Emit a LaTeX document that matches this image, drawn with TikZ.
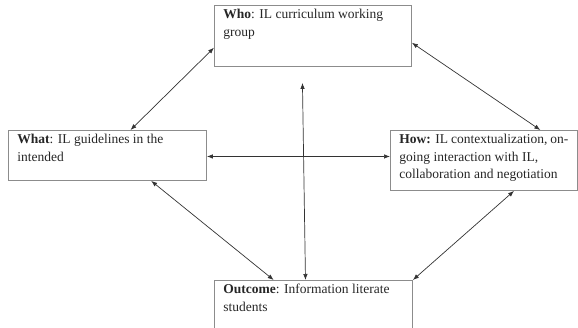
\documentclass[tikz,border=0pt]{standalone}
\usepackage{fontspec}
\setmainfont{Liberation Serif}
\usetikzlibrary{calc, arrows.meta}

\newcommand{\cellText}[3]{\parbox[t][#2][t]{#1}{\raggedright #3}}

\tikzset{
  infobox/.style={draw=black!45, line width=0.9pt, anchor=north west,
    inner xsep=9pt, inner ysep=4pt, text=black!85,
    font=\fontsize{13.5}{17.4}\selectfont},
  link/.style={black!80, line width=0.7pt,
    {Latex[length=6pt,width=4.5pt]}-{Latex[length=6pt,width=4.5pt]}}
}

\begin{document}
\begin{tikzpicture}[x=1pt,y=-1pt]
\useasboundingbox (0,0) rectangle (578,327);
% Four boxes
\node[infobox] (who) at (214,5)
  {\cellText{179pt}{53pt}{\textbf{Who}: IL curriculum working\\group}};
\node[infobox] (what) at (8,130)
  {\cellText{180pt}{42pt}{\textbf{What}: IL guidelines in the\\intended}};
\node[infobox] (how) at (390,130)
  {\cellText{169pt}{52pt}{\textbf{How:} IL contextualization, on-\\going interaction with IL,\\collaboration and negotiation}};
\node[infobox] (outcome) at (214,280)
  {\cellText{180pt}{60pt}{\textbf{Outcome}: Information literate\\students}};
% Diagonal links round the outside
\draw[link] ($(who.north west)!0.69!(who.south west)$) -- ($(what.north west)!0.616!(what.north east)$);
\draw[link] ($(who.north east)!0.61!(who.south east)$) -- ($(how.north west)!0.80!(how.north east)$);
\draw[link] ($(what.south west)!0.72!(what.south east)$) -- ($(outcome.north west)!0.30!(outcome.north east)$);
\draw[link] ($(how.south west)!0.66!(how.south east)$) -- (outcome.north east);
% Cross in the middle
\coordinate (mid) at ($(what.north east)!0.52!(what.south east)$);
\draw[link] (mid) -- (how.west |- mid);
\coordinate (top) at ($(who.south)+(-10.5,16)$);
\draw[link] (top) -- ($(outcome.north west)!0.46!(outcome.north east)$);
\end{tikzpicture}
\end{document}
